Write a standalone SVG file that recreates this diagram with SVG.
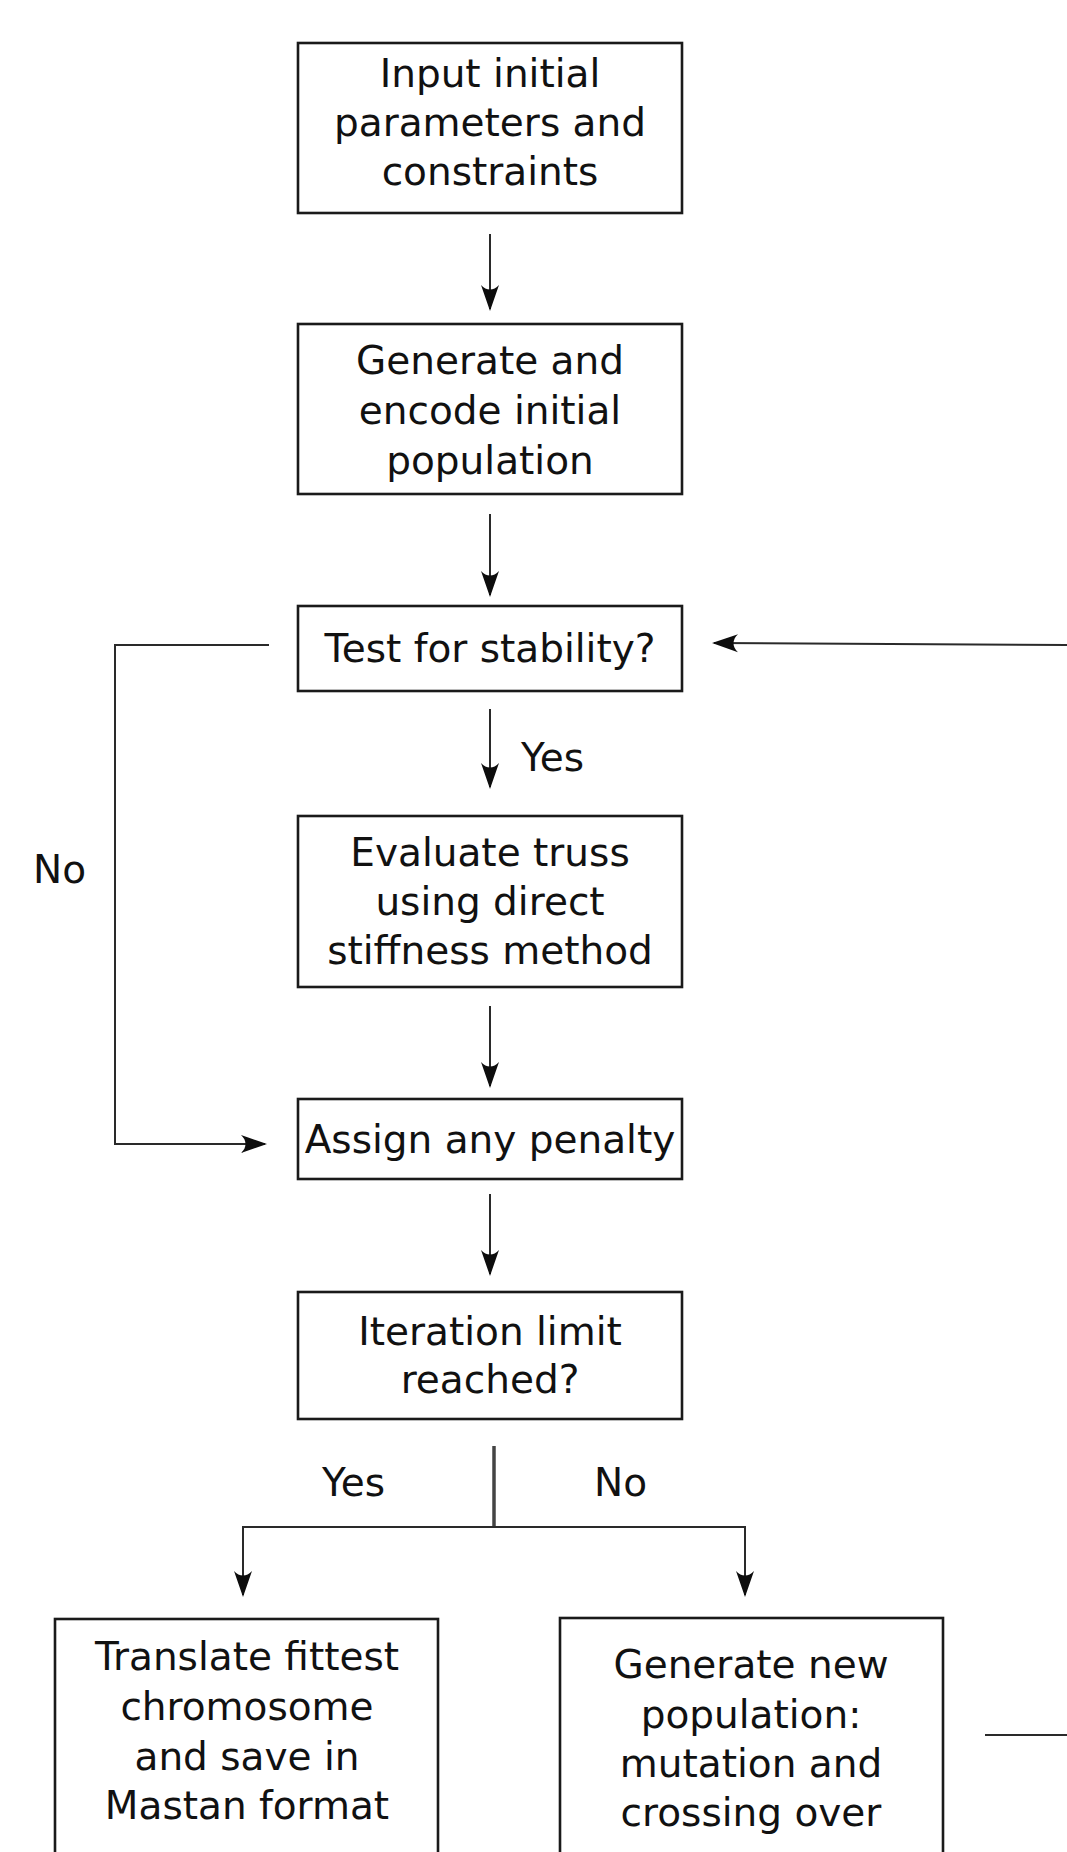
<svg xmlns="http://www.w3.org/2000/svg" width="1067" height="1852" viewBox="0 0 1067 1852">
<style>
.box{fill:#fff;stroke:#1a1a1a;stroke-width:2.6}
.t{font-family:"DejaVu Sans",sans-serif;font-size:39px;fill:#111;text-anchor:middle}
.l{font-family:"DejaVu Sans",sans-serif;font-size:39px;fill:#111}
.c{fill:none;stroke:#2a2a2a;stroke-width:2}
</style>
<defs>
<marker id="ah" viewBox="-28 -11 30 22" refX="-2" refY="0" markerWidth="30" markerHeight="22" markerUnits="userSpaceOnUse" orient="auto">
<path d="M0,0 L-26,-9 C-20,-3.5 -20,3.5 -26,9 Z" fill="#0d0d0d"/>
</marker>
</defs>
<rect width="1067" height="1852" fill="#fff"/>
<g id="connectors">
<path class="c" d="M490,234 V309" marker-end="url(#ah)"/>
<path class="c" d="M490,514 V595" marker-end="url(#ah)"/>
<path class="c" d="M490,709 V787" marker-end="url(#ah)"/>
<path class="c" d="M490,1006 V1086" marker-end="url(#ah)"/>
<path class="c" d="M490,1194 V1274" marker-end="url(#ah)"/>
<path class="c" d="M269,645 H115 V1144 H265" marker-end="url(#ah)"/>
<path class="c" d="M1067,645 L714,643" marker-end="url(#ah)"/>
<path d="M494,1446 V1527" fill="none" stroke="#444" stroke-width="3.5"/>
<path class="c" d="M494,1527 H243 V1595" marker-end="url(#ah)"/>
<path class="c" d="M494,1527 H745 V1595" marker-end="url(#ah)"/>
<path class="c" d="M985,1735 H1067"/>
<text class="l" x="521" y="771">Yes</text>
<text class="l" x="33" y="883">No</text>
<text class="l" x="322" y="1496">Yes</text>
<text class="l" x="594" y="1496">No</text>
</g>
<g id="n1"><rect class="box" x="298" y="43" width="384" height="170"/>
<text class="t" x="490" y="87">Input initial</text><text class="t" x="490" y="136">parameters and</text><text class="t" x="490" y="185">constraints</text></g>
<g id="n2"><rect class="box" x="298" y="324" width="384" height="170"/>
<text class="t" x="490" y="374">Generate and</text><text class="t" x="490" y="424">encode initial</text><text class="t" x="490" y="474">population</text></g>
<g id="n3"><rect class="box" x="298" y="606" width="384" height="85"/>
<text class="t" x="490" y="662">Test for stability?</text></g>
<g id="n4"><rect class="box" x="298" y="816" width="384" height="171"/>
<text class="t" x="490" y="866">Evaluate truss</text><text class="t" x="490" y="915">using direct</text><text class="t" x="490" y="964">stiffness method</text></g>
<g id="n5"><rect class="box" x="298" y="1099" width="384" height="80"/>
<text class="t" x="490" y="1153">Assign any penalty</text></g>
<g id="n6"><rect class="box" x="298" y="1292" width="384" height="127"/>
<text class="t" x="490" y="1345">Iteration limit</text><text class="t" x="490" y="1393">reached?</text></g>
<g id="n7"><rect class="box" x="55" y="1619" width="383" height="260"/>
<text class="t" x="247" y="1670">Translate fittest</text><text class="t" x="247" y="1720">chromosome</text><text class="t" x="247" y="1770">and save in</text><text class="t" x="247" y="1819">Mastan format</text></g>
<g id="n8"><rect class="box" x="560" y="1618" width="383" height="260"/>
<text class="t" x="751" y="1678">Generate new</text><text class="t" x="751" y="1728">population:</text><text class="t" x="751" y="1777">mutation and</text><text class="t" x="751" y="1826">crossing over</text></g>
</svg>
